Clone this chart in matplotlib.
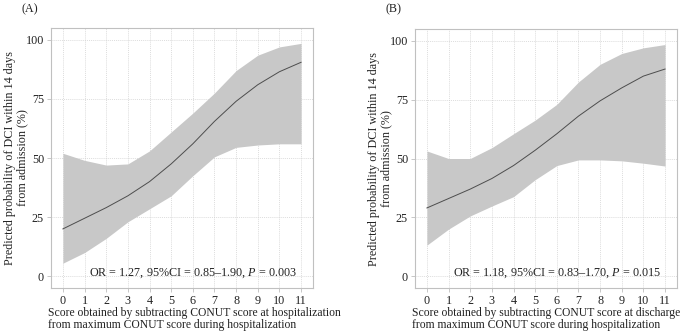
import matplotlib
matplotlib.use("Agg")
import matplotlib.pyplot as plt
import numpy as np

plt.rcParams['font.family'] = 'serif'
plt.rcParams['font.serif'] = ['Liberation Serif', 'DejaVu Serif']
plt.rcParams['mathtext.fontset'] = 'custom'
plt.rcParams['mathtext.rm'] = 'Liberation Serif'
plt.rcParams['mathtext.it'] = 'Liberation Serif:italic'

# Data
score = np.arange(0, 12)

prob_a = [20, 24.5, 29, 34, 40, 47.5, 56, 65.5, 74, 81, 86.5, 90.5]
lower_a = [5.5, 10, 16, 23, 28.5, 34, 42.5, 50.5, 54.5, 55.5, 56, 56]
upper_a = [52, 49, 47, 47.5, 53, 61, 69, 77.5, 87, 93.5, 97, 98.5]

prob_b = [29, 33, 37, 41.5, 47, 53.5, 60.5, 68, 74.5, 80, 85, 88]
lower_b = [13.2, 20, 25.6, 29.8, 33.8, 41, 47, 49.4, 49.4, 49, 48, 46.8]
upper_b = [53.2, 50, 50, 54.6, 60.5, 66.3, 73, 82.5, 90, 94.6, 97, 98.4]

panel_labels = ['(A)', '(B)']
xlabels = ['Score obtained by subtracting CONUT score at hospitalization\n'
           'from maximum CONUT score during hospitalization',
           'Score obtained by subtracting CONUT score at discharge\n'
           'from maximum CONUT score during hospitalization']
ylabel = 'Predicted probability of DCI within 14 days\nfrom admission (%)'
stats = ['OR = 1.27, 95%CI = 0.85–1.90, $P$ = 0.003',
         'OR = 1.18, 95%CI = 0.83–1.70, $P$ = 0.015']

W, H = 685, 335
fig = plt.figure(figsize=(W / 100, H / 100), dpi=100)
boxes = [(51, 313, 28, 288), (415, 677, 29, 288)]
series = [(prob_a, lower_a, upper_a), (prob_b, lower_b, upper_b)]
fs = 8.7

for i, ((l, r, t, b), (p, lo, up)) in enumerate(zip(boxes, series)):
    ax = fig.add_axes([l / W, 1 - b / H, (r - l) / W, (b - t) / H])
    ax.fill_between(score, lo, up, color='#c8c8c8', lw=0, zorder=2)
    ax.plot(score, p, color='#4d4d4d', lw=0.7, zorder=3)
    ax.set_xlim(-0.55, 11.55)
    ax.set_ylim(-5, 105)
    ax.set_xticks(score)
    ax.set_yticks([0, 25, 50, 75, 100])
    ax.grid(True, color='#d0d0d0', lw=0.5, ls=(0, (1.5, 1.5)), zorder=0)
    ax.set_axisbelow(True)
    for s in ax.spines.values():
        s.set_color('#c0c0c0')
        s.set_linewidth(0.8)
    ax.tick_params(length=3, width=0.5, color='#b0b0b0', labelsize=fs,
                   labelcolor='#222222', pad=2)
    ax.set_ylabel(ylabel, fontsize=fs, color='#222222', linespacing=0.95)
    ax.yaxis.set_label_coords(-23 / (r - l), 0.5)
    ax.text(10.8, 1.3, stats[i], fontsize=fs, ha='right', va='center',
            color='#222222', zorder=4)
    fig.text((l - 3) / W, 1 - 319 / H, xlabels[i], fontsize=8.4, ha='left',
             va='center', color='#222222', linespacing=1.05)
    fig.text((l - 29) / W, 1 - 9 / H, panel_labels[i], fontsize=fs,
             ha='left', va='center', color='#222222')

fig.savefig('out.png', dpi=100)
